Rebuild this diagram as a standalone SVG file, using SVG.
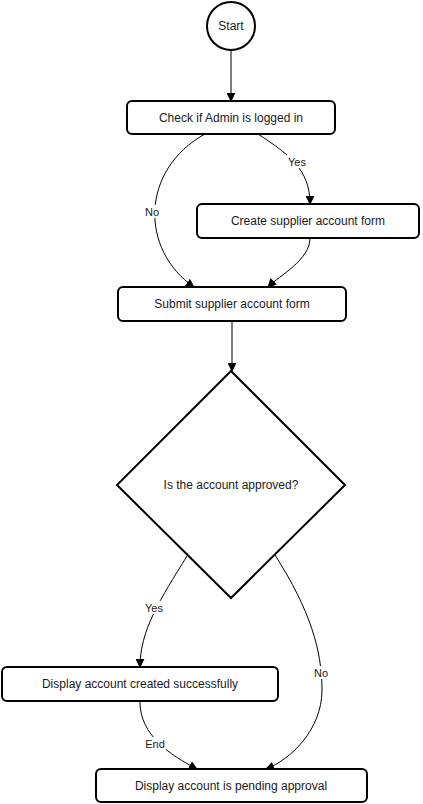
<svg xmlns="http://www.w3.org/2000/svg" width="423" height="804" viewBox="0 0 423 804">
<defs>
<marker id="arr" viewBox="0 0 10 10" refX="9" refY="5" markerWidth="9" markerHeight="9" markerUnits="userSpaceOnUse" orient="auto">
<path d="M0,0 L10,5 L0,10 z" fill="#000"/>
</marker>
<style>
.node{fill:#fff;stroke:#000;stroke-width:2}
.t{font-family:"Liberation Sans",Arial,sans-serif;font-size:12px;fill:#1a1a1a;text-anchor:middle;dominant-baseline:central}
.lbl{font-family:"Liberation Sans",Arial,sans-serif;font-size:11px;fill:#1a1a1a;text-anchor:middle;dominant-baseline:central}
.lb{fill:#fff}
.e{fill:none;stroke:#000;stroke-width:1;marker-end:url(#arr)}
</style>
</defs>
<rect width="423" height="804" fill="#fff"/>
<g id="connectors">
<path class="e" d="M231,51 L231,101"/>
<path class="e" d="M205,134 C140,170 140,250 194,287"/>
<path class="e" d="M258,134 C290,155 310,170 310,204"/>
<path class="e" d="M310,238 C310,260 280,275 268,287"/>
<path class="e" d="M232,321 L232,371"/>
<path class="e" d="M187,556 C160,600 140,630 140,667"/>
<path class="e" d="M275,555 C310,610 322,650 322,690 C322,730 290,760 266,769"/>
<path class="e" d="M140,702 C140,735 170,755 197,769"/>
<rect class="lb" x="287" y="155" width="20" height="13"/>
<text class="lbl" x="297" y="162">Yes</text>
<rect class="lb" x="144" y="205" width="17" height="13"/>
<text class="lbl" x="152" y="212">No</text>
<rect class="lb" x="144" y="601" width="20" height="13"/>
<text class="lbl" x="154" y="608">Yes</text>
<rect class="lb" x="313" y="666" width="17" height="13"/>
<text class="lbl" x="321" y="673">No</text>
<rect class="lb" x="144" y="737" width="22" height="13"/>
<text class="lbl" x="155" y="744">End</text>
</g>
<g id="start">
<circle class="node" cx="231" cy="26" r="24"/>
<text class="t" x="231" y="26">Start</text>
</g>
<g id="check">
<rect class="node" x="127" y="101" width="208" height="33" rx="5"/>
<text class="t" x="231" y="118">Check if Admin is logged in</text>
</g>
<g id="create">
<rect class="node" x="197" y="204" width="222" height="34" rx="5"/>
<text class="t" x="308" y="221">Create supplier account form</text>
</g>
<g id="submit">
<rect class="node" x="118" y="287" width="228" height="34" rx="5"/>
<text class="t" x="232" y="304">Submit supplier account form</text>
</g>
<g id="decision">
<polygon class="node" points="231,371 345,485 231,598 117,485"/>
<text class="t" x="231" y="485">Is the account approved?</text>
</g>
<g id="created">
<rect class="node" x="2" y="667" width="276" height="34" rx="5"/>
<text class="t" x="140" y="684">Display account created successfully</text>
</g>
<g id="pending">
<rect class="node" x="96" y="769" width="271" height="33" rx="5"/>
<text class="t" x="231" y="786">Display account is pending approval</text>
</g>
</svg>
